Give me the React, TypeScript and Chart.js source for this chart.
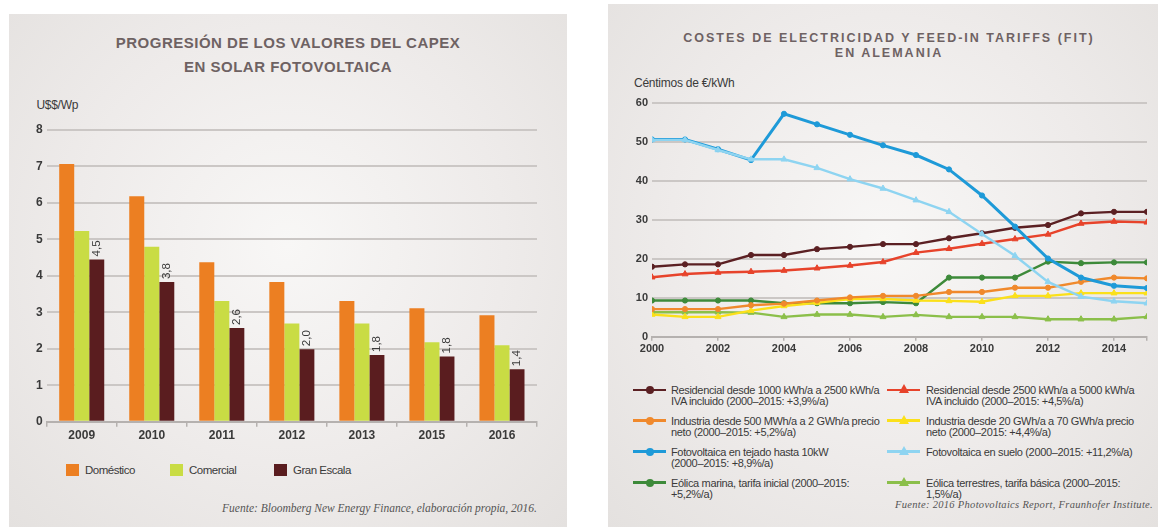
import React, { useEffect, useRef } from 'react';
import { Chart, registerables } from 'chart.js';

Chart.register(...registerables);

// ---------- Left chart data ----------
const capexYears = ['2009', '2010', '2011', '2012', '2013', '2015', '2016'];
const domestico = [7.07, 6.18, 4.37, 3.83, 3.31, 3.11, 2.92];
const comercial = [5.23, 4.8, 3.31, 2.69, 2.69, 2.18, 2.1];
const granEscala = [4.45, 3.83, 2.57, 1.99, 1.83, 1.79, 1.44];
const granEscalaLabels = ['4,5', '3,8', '2,6', '2,0', '1,8', '1,8', '1,4'];
const capexSeriesNames = ['Doméstico', 'Comercial', 'Gran Escala'];
const capexColors = ['#ec7f22', '#c9dc44', '#5a1d1f'];

// ---------- Right chart data ----------
const feedYears = [2000, 2001, 2002, 2003, 2004, 2005, 2006, 2007, 2008, 2009, 2010, 2011, 2012, 2013, 2014, 2015];
const resid1000 = [18.0, 18.6, 18.6, 21.0, 21.0, 22.5, 23.1, 23.8, 23.8, 25.3, 26.6, 28.0, 28.7, 31.7, 32.1, 32.1];
const resid2500 = [15.3, 16.1, 16.5, 16.7, 17.0, 17.6, 18.3, 19.2, 21.6, 22.6, 23.9, 25.1, 26.3, 29.1, 29.6, 29.4];
const industria500 = [7.1, 7.1, 7.1, 8.1, 8.5, 9.3, 10.1, 10.5, 10.5, 11.5, 11.5, 12.6, 12.6, 14.1, 15.2, 15.0];
const industria20 = [5.7, 5.1, 5.1, 6.7, 7.9, 8.7, 9.7, 9.7, 9.3, 9.2, 9.0, 10.5, 10.5, 11.2, 11.2, 11.2];
const pvTejado = [50.7, 50.7, 48.2, 45.4, 57.3, 54.6, 51.9, 49.2, 46.7, 43.0, 36.3, 28.3, 20.1, 15.2, 13.1, 12.5];
const pvSuelo = [50.6, 50.6, 48.0, 45.6, 45.6, 43.4, 40.5, 38.1, 35.1, 32.1, 26.4, 20.8, 14.1, 10.3, 9.1, 8.6];
const eolicaMarina = [9.3, 9.3, 9.3, 9.3, 8.6, 8.6, 8.6, 8.9, 8.6, 15.2, 15.2, 15.2, 19.3, 18.9, 19.1, 19.1];
const eolicaTerrestre = [6.3, 6.3, 6.3, 6.2, 5.1, 5.7, 5.7, 5.1, 5.6, 5.1, 5.1, 5.1, 4.5, 4.5, 4.5, 5.1];
const feedXTicks = [2000, 2002, 2004, 2006, 2008, 2010, 2012, 2014, 2015];
const feedXTickLabels = ['2000', '2002', '2004', '2006', '2008', '2010', '2012', '2014', ''];

const feedSeriesLabels: string[][] = [
  ['Residencial desde 1000 kWh/a a 2500 kWh/a', 'IVA incluido (2000–2015: +3,9%/a)'],
  ['Residencial desde 2500 kWh/a a 5000 kWh/a', 'IVA incluido (2000–2015: +4,5%/a)'],
  ['Industria desde 500 MWh/a a 2 GWh/a precio', 'neto (2000–2015: +5,2%/a)'],
  ['Industria desde 20 GWh/a a 70 GWh/a precio', 'neto (2000–2015: +4,4%/a)'],
  ['Fotovoltaica en tejado hasta 10kW', '(2000–2015: +8,9%/a)'],
  ['Fotovoltaica en suelo (2000–2015: +11,2%/a)'],
  ['Eólica marina, tarifa inicial (2000–2015:', '+5,2%/a)'],
  ['Eólica terrestres, tarifa básica (2000–2015:', '1,5%/a)'],
];
const feedSeriesData = [resid1000, resid2500, industria500, industria20, pvTejado, pvSuelo, eolicaMarina, eolicaTerrestre];
const feedColors = ['#5b2023', '#e7432b', '#f0892c', '#fbe01a', '#1e9ad8', '#8ed4f1', '#3d8a3a', '#8bbf4a'];
const feedShapes = ['circle', 'triangle', 'circle', 'triangle', 'circle', 'triangle', 'circle', 'triangle'];
const feedOrder = [3, 4, 5, 6, 2, 1, 7, 8];

const SANS = 'Arial, "Liberation Sans", sans-serif';
const SERIF = '"Liberation Serif", "Times New Roman", serif';
const TITLE_COLOR = '#6e6263';
const TEXT = '#3a3a3a';
const GRID = '#cbc7c5';
const AXIS = '#b5b1af';

const barLabelPlugin = {
  id: 'barLabels',
  afterDatasetsDraw(chart: any) {
    const meta = chart.getDatasetMeta(2);
    const ctx = chart.ctx;
    ctx.save();
    ctx.fillStyle = TEXT;
    ctx.font = `11.5px ${SANS}`;
    ctx.textAlign = 'left';
    ctx.textBaseline = 'middle';
    meta.data.forEach((bar: any, i: number) => {
      ctx.save();
      ctx.translate(bar.x, bar.y - 3);
      ctx.rotate(-Math.PI / 2);
      ctx.fillText(granEscalaLabels[i], 0, 0);
      ctx.restore();
    });
    ctx.restore();
  },
};

function CapexChart() {
  const ref = useRef<HTMLCanvasElement>(null);
  useEffect(() => {
    const chart = new Chart(ref.current as HTMLCanvasElement, {
      type: 'bar',
      data: {
        labels: capexYears,
        datasets: [domestico, comercial, granEscala].map((d, i) => ({
          label: capexSeriesNames[i],
          data: d,
          backgroundColor: capexColors[i],
          borderWidth: 0,
          categoryPercentage: 0.643,
          barPercentage: 1,
        })),
      },
      options: {
        animation: false,
        responsive: false,
        maintainAspectRatio: false,
        layout: { padding: { left: 10.7, top: 15, right: 13, bottom: 8.3 } },
        plugins: { legend: { display: false }, tooltip: { enabled: false }, title: { display: false } },
        scales: {
          x: {
            grid: { display: true, drawOnChartArea: false, drawTicks: true, tickLength: 5, color: AXIS, lineWidth: 1.5, offset: true },
            border: { display: true, color: AXIS, width: 2 },
            ticks: { color: TEXT, font: { family: SANS, size: 12, weight: 'bold' }, padding: 2, maxRotation: 0 },
            afterFit: (s: any) => { s.height = 25; },
          },
          y: {
            min: 0,
            max: 8,
            ticks: { stepSize: 1, color: TEXT, font: { family: SANS, size: 12, weight: 'bold' }, padding: 4 },
            grid: { color: GRID, lineWidth: 2, drawTicks: false },
            border: { display: false },
            afterFit: (s: any) => { s.width = 26; },
          },
        },
      } as any,
      plugins: [barLabelPlugin],
    });
    return () => chart.destroy();
  }, []);
  return (
    <canvas
      ref={ref}
      width={540}
      height={340}
      style={{ position: 'absolute', left: 10, top: 115, width: 540, height: 340 }}
    />
  );
}

function FeedChart() {
  const ref = useRef<HTMLCanvasElement>(null);
  useEffect(() => {
    const chart = new Chart(ref.current as HTMLCanvasElement, {
      type: 'line',
      data: {
        datasets: feedSeriesData.map((d, i) => ({
          label: feedSeriesLabels[i].join(' '),
          data: feedYears.map((x, j) => ({ x, y: d[j] })),
          borderColor: feedColors[i],
          backgroundColor: feedColors[i],
          pointStyle: feedShapes[i],
          pointRadius: feedShapes[i] === 'triangle' ? 3.5 : 2.6,
          pointBorderWidth: 1,
          borderWidth: i === 4 ? 3 : 2.4,
          tension: 0,
          fill: false,
          order: feedOrder[i],
        })),
      },
      options: {
        animation: false,
        responsive: false,
        maintainAspectRatio: false,
        layout: { padding: { left: 10, top: 11.3, right: 10, bottom: 0.3 } },
        plugins: { legend: { display: false }, tooltip: { enabled: false }, title: { display: false } },
        scales: {
          x: {
            type: 'linear',
            min: 2000,
            max: 2015,
            afterBuildTicks: (s: any) => { s.ticks = feedXTicks.map((v) => ({ value: v })); },
            grid: { display: true, drawOnChartArea: false, drawTicks: true, tickLength: 4, color: AXIS, lineWidth: 1.5 },
            border: { display: true, color: AXIS, width: 2 },
            ticks: {
              color: TEXT,
              font: { family: SANS, size: 11, weight: 'bold' },
              padding: 2,
              maxRotation: 0,
              minRotation: 0,
              autoSkip: false,
              callback: (_v: any, i: number) => feedXTickLabels[i],
            },
            afterFit: (s: any) => { s.height = 20; },
          },
          y: {
            min: 0,
            max: 60,
            ticks: { stepSize: 10, color: TEXT, font: { family: SANS, size: 11, weight: 'bold' }, padding: 4 },
            grid: { color: GRID, lineWidth: 2, drawTicks: false },
            border: { display: false },
            afterFit: (s: any) => { s.width = 30; },
          },
        },
      } as any,
    });
    return () => chart.destroy();
  }, []);
  return (
    <canvas
      ref={ref}
      width={545}
      height={265}
      style={{ position: 'absolute', left: 612, top: 92, width: 545, height: 265 }}
    />
  );
}

function Txt(props: { x: number; y: number; right?: boolean; style?: React.CSSProperties; children: React.ReactNode }) {
  const h = 16;
  const pos: React.CSSProperties = props.right
    ? { right: 1163 - props.x }
    : { left: props.x };
  return (
    <div
      style={{
        position: 'absolute',
        top: props.y - h / 2,
        height: h,
        lineHeight: `${h}px`,
        whiteSpace: 'nowrap',
        ...pos,
        ...props.style,
      }}
    >
      {props.children}
    </div>
  );
}

function CenterTxt(props: { cx: number; y: number; style?: React.CSSProperties; children: React.ReactNode }) {
  const w = 600;
  const h = 20;
  return (
    <div
      style={{
        position: 'absolute',
        left: props.cx - w / 2,
        width: w,
        top: props.y - h / 2,
        height: h,
        lineHeight: `${h}px`,
        textAlign: 'center',
        whiteSpace: 'nowrap',
        ...props.style,
      }}
    >
      {props.children}
    </div>
  );
}

function LineMarker(props: { x: number; y: number; color: string; shape: string }) {
  const { x, y, color, shape } = props;
  return (
    <div style={{ position: 'absolute', left: x, top: y - 1.25, width: 33, height: 2.5, background: color }}>
      {shape === 'circle' ? (
        <div style={{ position: 'absolute', left: 12.5, top: -2.75, width: 8, height: 8, borderRadius: '50%', background: color }} />
      ) : (
        <div
          style={{
            position: 'absolute',
            left: 11.5,
            top: -4.5,
            width: 0,
            height: 0,
            borderLeft: '5px solid transparent',
            borderRight: '5px solid transparent',
            borderBottom: `9px solid ${color}`,
          }}
        />
      )}
    </div>
  );
}

const panelBg = 'radial-gradient(ellipse at 50% 45%, #f8f7f6 0%, #eeebea 55%, #e4e1df 100%)';
const legendFont: React.CSSProperties = { fontFamily: SANS, fontSize: 11, letterSpacing: '-0.35px', color: TEXT };

export default function App() {
  const legendRowsY = [390, 420.7, 451.5, 482.5];
  const capexLegendX = [66, 170, 274];
  return (
    <div style={{ position: 'absolute', left: 0, top: 0, width: 1163, height: 527, background: '#ffffff', overflow: 'hidden', fontFamily: SANS }}>
      <div style={{ position: 'absolute', left: 9, top: 14, width: 558, height: 513, background: panelBg }} />
      <div style={{ position: 'absolute', left: 608, top: 4, width: 550, height: 523, background: panelBg }} />

      {/* Left titles */}
      <CenterTxt cx={288} y={43} style={{ fontSize: 15, fontWeight: 'bold', color: TITLE_COLOR, letterSpacing: '0.5px' }}>
        PROGRESIÓN DE LOS VALORES DEL CAPEX
      </CenterTxt>
      <CenterTxt cx={288} y={67} style={{ fontSize: 15, fontWeight: 'bold', color: TITLE_COLOR, letterSpacing: '0.5px' }}>
        EN SOLAR FOTOVOLTAICA
      </CenterTxt>
      <Txt x={36.5} y={105} style={{ fontSize: 12, letterSpacing: '-0.3px', color: TEXT }}>U$$/Wp</Txt>

      <CapexChart />

      {capexSeriesNames.map((n, i) => (
        <React.Fragment key={n}>
          <div style={{ position: 'absolute', left: capexLegendX[i], top: 464, width: 13, height: 12, background: capexColors[i] }} />
          <Txt x={capexLegendX[i] + 19} y={470} style={{ fontSize: 11.5, letterSpacing: '-0.5px', color: TEXT }}>{n}</Txt>
        </React.Fragment>
      ))}
      <Txt x={537} y={508} right style={{ fontFamily: SERIF, fontStyle: 'italic', fontSize: 11.5, color: '#555' }}>
        Fuente: Bloomberg New Energy Finance, elaboración propia, 2016.
      </Txt>

      {/* Right titles */}
      <CenterTxt cx={889} y={38} style={{ fontSize: 12.5, fontWeight: 'bold', color: TITLE_COLOR, letterSpacing: '2px' }}>
        COSTES DE ELECTRICIDAD Y FEED-IN TARIFFS (FIT)
      </CenterTxt>
      <CenterTxt cx={889} y={53} style={{ fontSize: 12.5, fontWeight: 'bold', color: TITLE_COLOR, letterSpacing: '2px' }}>
        EN ALEMANIA
      </CenterTxt>
      <Txt x={634} y={83} style={{ fontSize: 12, letterSpacing: '-0.25px', color: TEXT }}>Céntimos de €/kWh</Txt>

      <FeedChart />

      {feedSeriesLabels.map((lines, i) => {
        const col = i % 2;
        const row = Math.floor(i / 2);
        const mx = col === 0 ? 633 : 887;
        const tx = col === 0 ? 671 : 926;
        const y = legendRowsY[row];
        return (
          <React.Fragment key={i}>
            <LineMarker x={mx} y={y} color={feedColors[i]} shape={feedShapes[i]} />
            {lines.map((ln, k) => (
              <Txt key={k} x={tx} y={y + k * 11} style={legendFont}>{ln}</Txt>
            ))}
          </React.Fragment>
        );
      })}
      <Txt x={1153} y={505} right style={{ fontFamily: SERIF, fontStyle: 'italic', fontSize: 10.5, color: '#555', letterSpacing: '0.3px' }}>
        Fuente: 2016 Photovoltaics Report, Fraunhofer Institute.
      </Txt>
    </div>
  );
}
